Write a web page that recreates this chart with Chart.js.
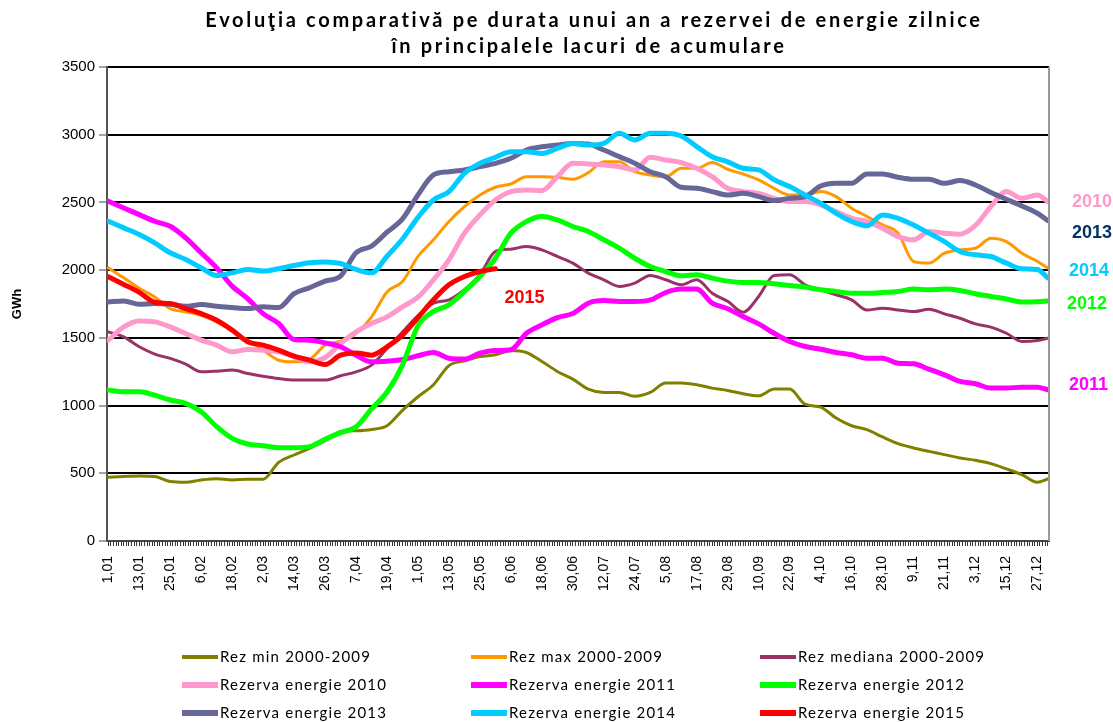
<!DOCTYPE html>
<html>
<head>
<meta charset="utf-8">
<script src="https://cdn.jsdelivr.net/npm/chart.js@4.4.1/dist/chart.umd.min.js"></script>
<style>
  html, body { margin: 0; padding: 0; background: #fff; }
  #chart { display: block; }
</style>
</head>
<body>
<canvas id="chart" width="1113" height="722"></canvas>
<script>
const sampleDays = [0, 6, 12, 18, 24, 30, 36, 42, 48, 54, 60, 66, 72, 78, 84, 90, 96, 102, 108, 114,
  120, 126, 132, 138, 144, 150, 156, 162, 168, 174, 180, 186, 192, 198, 204, 210, 216, 222, 228, 234,
  240, 246, 252, 258, 264, 270, 276, 282, 288, 294, 300, 306, 312, 318, 324, 330, 336, 342, 348, 354, 360, 364];

const tickLabels = ['1,01', '13,01', '25,01', '6,02', '18,02', '2,03', '14,03', '26,03', '7,04', '19,04',
  '1,05', '13,05', '25,05', '6,06', '18,06', '30,06', '12,07', '24,07', '5,08', '17,08', '29,08',
  '10,09', '22,09', '4,10', '16,10', '28,10', '9,11', '21,11', '3,12', '15,12', '27,12'];

const seriesNames = ['Rez min 2000-2009', 'Rez max 2000-2009', 'Rez mediana 2000-2009',
  'Rezerva energie 2010', 'Rezerva energie 2011', 'Rezerva energie 2012',
  'Rezerva energie 2013', 'Rezerva energie 2014', 'Rezerva energie 2015'];

const rezMin = [471, 476, 480, 476, 440, 434, 451, 460, 451, 456, 456, 581, 635, 684, 740, 807, 814, 824, 851, 965,
  1065, 1154, 1295, 1330, 1362, 1375, 1407, 1392, 1326, 1252, 1195, 1122, 1097, 1097, 1068, 1097, 1166, 1166, 1154, 1129,
  1112, 1087, 1072, 1122, 1122, 1010, 989, 908, 851, 822, 768, 719, 687, 662, 638, 613, 596, 571, 532, 490, 434, 458];

const rezMax = [2017, 1943, 1866, 1802, 1716, 1692, 1667, 1618, 1556, 1483, 1409, 1335, 1323, 1340, 1446, 1475, 1532, 1655, 1839, 1916,
  2101, 2224, 2359, 2469, 2555, 2612, 2636, 2690, 2690, 2686, 2671, 2720, 2800, 2800, 2727, 2703, 2690, 2752, 2752, 2794,
  2745, 2710, 2667, 2604, 2555, 2555, 2580, 2543, 2457, 2396, 2334, 2273, 2064, 2052, 2125, 2150, 2162, 2236, 2211, 2125, 2064, 2015];

const rezMediana = [1544, 1507, 1434, 1380, 1348, 1306, 1249, 1254, 1262, 1237, 1217, 1200, 1188, 1188, 1188, 1220, 1249, 1299, 1421, 1544,
  1665, 1757, 1781, 1855, 1966, 2138, 2155, 2175, 2150, 2101, 2052, 1978, 1929, 1880, 1904, 1961, 1929, 1892, 1929, 1830,
  1770, 1690, 1806, 1961, 1966, 1892, 1855, 1818, 1781, 1705, 1719, 1706, 1694, 1711, 1677, 1645, 1603, 1579, 1534, 1473, 1480, 1497];

const rez2010 = [1483, 1581, 1625, 1618, 1581, 1532, 1483, 1446, 1397, 1414, 1409, 1397, 1360, 1323, 1355, 1458, 1544, 1606, 1655, 1729,
  1800, 1929, 2076, 2273, 2408, 2518, 2580, 2592, 2587, 2690, 2789, 2784, 2776, 2764, 2740, 2833, 2813, 2794, 2752, 2690,
  2604, 2580, 2567, 2530, 2506, 2506, 2482, 2432, 2383, 2359, 2310, 2248, 2224, 2285, 2273, 2265, 2330, 2470, 2580, 2530, 2555, 2506];

const rez2011 = [2509, 2459, 2410, 2361, 2324, 2238, 2128, 2017, 1882, 1790, 1679, 1606, 1488, 1483, 1463, 1434, 1372, 1323, 1328, 1340,
  1368, 1392, 1350, 1343, 1387, 1407, 1412, 1534, 1596, 1650, 1680, 1756, 1775, 1768, 1768, 1780, 1835, 1860, 1860, 1757,
  1715, 1657, 1603, 1534, 1473, 1436, 1416, 1392, 1375, 1350, 1350, 1313, 1308, 1269, 1227, 1178, 1161, 1129, 1129, 1136, 1136, 1117];

const rez2012 = [1114, 1102, 1102, 1077, 1041, 1016, 955, 844, 758, 716, 704, 689, 689, 697, 751, 800, 844, 975, 1100, 1300,
  1590, 1695, 1744, 1843, 1953, 2088, 2273, 2359, 2396, 2371, 2322, 2285, 2224, 2162, 2088, 2027, 1990, 1958, 1966, 1941,
  1919, 1909, 1909, 1899, 1887, 1875, 1855, 1843, 1830, 1830, 1835, 1843, 1860, 1855, 1860, 1850, 1826, 1806, 1787, 1765, 1767, 1772];

const rez2013 = [1765, 1773, 1748, 1753, 1748, 1733, 1746, 1733, 1724, 1716, 1729, 1724, 1827, 1870, 1919, 1956, 2128, 2177, 2280, 2378,
  2556, 2703, 2727, 2740, 2764, 2789, 2826, 2887, 2911, 2924, 2936, 2931, 2887, 2838, 2789, 2727, 2690, 2612, 2604, 2580,
  2555, 2567, 2543, 2514, 2530, 2543, 2621, 2641, 2641, 2710, 2710, 2686, 2671, 2671, 2641, 2661, 2629, 2573, 2523, 2474, 2420, 2366];

const rez2014 = [2361, 2312, 2263, 2201, 2128, 2079, 2017, 1961, 1980, 2005, 1993, 2010, 2034, 2054, 2061, 2049, 2005, 1980, 2103, 2230,
  2390, 2518, 2580, 2715, 2789, 2833, 2875, 2875, 2862, 2899, 2936, 2924, 2936, 3010, 2961, 3010, 3010, 2990, 2912, 2838,
  2800, 2752, 2740, 2667, 2617, 2555, 2494, 2420, 2359, 2327, 2408, 2383, 2334, 2273, 2211, 2138, 2113, 2101, 2052, 2010, 2005, 1943];

const rez2015 = [1951, 1894, 1836, 1763, 1753, 1716, 1679, 1630, 1557, 1471, 1446, 1409, 1365, 1335, 1303, 1372, 1389, 1372, 1434, 1520,
  1650, 1781, 1892, 1953, 1990, 2010];

const seriesValues = [rezMin, rezMax, rezMediana, rez2010, rez2011, rez2012, rez2013, rez2014, rez2015];
const seriesColors = ['#808000', '#FF9900', '#993366', '#FF99CC', '#FF00FF', '#00FF00', '#666699', '#00CCFF', '#FF0000'];
const seriesWidths = [3, 3, 3, 5, 5, 5, 5, 5, 5];

const titleLines = ['Evoluţia comparativă pe durata unui an a rezervei de energie zilnice',
  'în principalele lacuri de acumulare'];

// year tags next to the curves: [text, colour, day (null = right of the plot), GWh, x offset]
const yearTags = [
  ['2010', '#FF99CC', null, 2500, 23],
  ['2013', '#003366', null, 2275, 23],
  ['2014', '#00CCFF', null, 1990, 20],
  ['2012', '#00FF00', null, 1750, 18],
  ['2011', '#FF00FF', null, 1150, 20],
  ['2015', '#FF0000', 153.5, 1795, 0]
];

const allDays = Array.from({ length: 365 }, (_, d) => d);

const datasets = seriesNames.map((name, i) => ({
  label: name,
  data: seriesValues[i].map((v, k) => ({ x: sampleDays[k], y: v })),
  borderColor: seriesColors[i],
  backgroundColor: seriesColors[i],
  borderWidth: seriesWidths[i],
  pointRadius: 0,
  cubicInterpolationMode: 'monotone',
  borderJoinStyle: 'round',
  borderCapStyle: 'round',
  fill: false,
  order: seriesNames.length - i
}));

// spread letters so a line reaches a given width (the original title is letter-spaced)
function spacedText(ctx, text, x, y, width) {
  ctx.letterSpacing = '0px';
  const gap = (width - ctx.measureText(text).width) / text.length;
  ctx.letterSpacing = gap.toFixed(2) + 'px';
  ctx.fillText(text, x, y);
  return gap;
}

const extras = {
  id: 'extras',
  afterDraw(chart) {
    const { ctx, chartArea, scales } = chart;
    ctx.save();

    // right frame line
    ctx.strokeStyle = '#999';
    ctx.lineWidth = 2;
    ctx.beginPath();
    ctx.moveTo(chartArea.right, chartArea.top);
    ctx.lineTo(chartArea.right, chartArea.bottom);
    ctx.stroke();

    // title
    ctx.fillStyle = '#000';
    ctx.textAlign = 'center';
    ctx.textBaseline = 'middle';
    ctx.font = 'bold 20px Lato';
    const gap = spacedText(ctx, titleLines[0], 594, 21, 778);
    ctx.letterSpacing = gap.toFixed(2) + 'px';
    ctx.fillText(titleLines[1], 589, 47);

    // year tags
    ctx.letterSpacing = '0px';
    ctx.font = 'bold 18px "Liberation Sans", Arial';
    ctx.textAlign = 'left';
    yearTags.forEach(([text, color, day, val, dx]) => {
      const x = day === null ? chartArea.right + dx : scales.x.getPixelForValue(day);
      ctx.fillStyle = color;
      ctx.fillText(text, x, scales.y.getPixelForValue(val));
    });

    // legend, 3 columns
    ctx.font = '15px Lato';
    ctx.letterSpacing = '1.2px';
    chart.data.datasets.forEach((ds, i) => {
      const x0 = 182 + (i % 3) * 289;
      const y0 = 657 + Math.floor(i / 3) * 28;
      ctx.strokeStyle = ds.borderColor;
      ctx.lineWidth = ds.borderWidth + 1;
      ctx.beginPath();
      ctx.moveTo(x0, y0);
      ctx.lineTo(x0 + 36, y0);
      ctx.stroke();
      ctx.fillStyle = '#000';
      ctx.fillText(ds.label, x0 + 38, y0);
    });
    ctx.restore();
  }
};

new Chart(document.getElementById('chart'), {
  type: 'line',
  data: { datasets },
  options: {
    responsive: false,
    animation: false,
    layout: { padding: { top: 67, right: 64, bottom: 101, left: 0 } },
    plugins: { legend: { display: false }, title: { display: false }, tooltip: { enabled: false } },
    scales: {
      x: {
        type: 'linear',
        min: -0.5,
        max: 364.5,
        afterBuildTicks: axis => { axis.ticks = allDays.map(d => ({ value: d })); },
        afterFit: axis => { axis.height = 80; },
        ticks: {
          autoSkip: false,
          minRotation: 90,
          maxRotation: 90,
          padding: 10,
          color: '#000',
          font: { family: '"Liberation Sans", Arial', size: 14 },
          callback: v => (v % 12 === 0 ? tickLabels[v / 12] : '')
        },
        grid: { drawOnChartArea: false, tickLength: 5, color: '#333', lineWidth: 1 },
        border: { display: true, color: '#444', width: 2 }
      },
      y: {
        min: 0,
        max: 3500,
        afterFit: axis => { axis.width = 107; },
        ticks: {
          stepSize: 500,
          padding: 4,
          color: '#000',
          font: { family: '"Liberation Sans", Arial', size: 15 },
          callback: v => String(v)
        },
        grid: { color: '#000', lineWidth: 2, tickLength: 8, tickColor: '#444', tickWidth: 1 },
        border: { display: true, color: '#555', width: 2 },
        title: {
          display: true,
          text: 'GWh',
          color: '#000',
          font: { family: '"Liberation Sans", Arial', size: 13, weight: 'bold' },
          padding: { top: 10, bottom: 0 }
        }
      }
    }
  },
  plugins: [extras]
});
</script>
</body>
</html>
